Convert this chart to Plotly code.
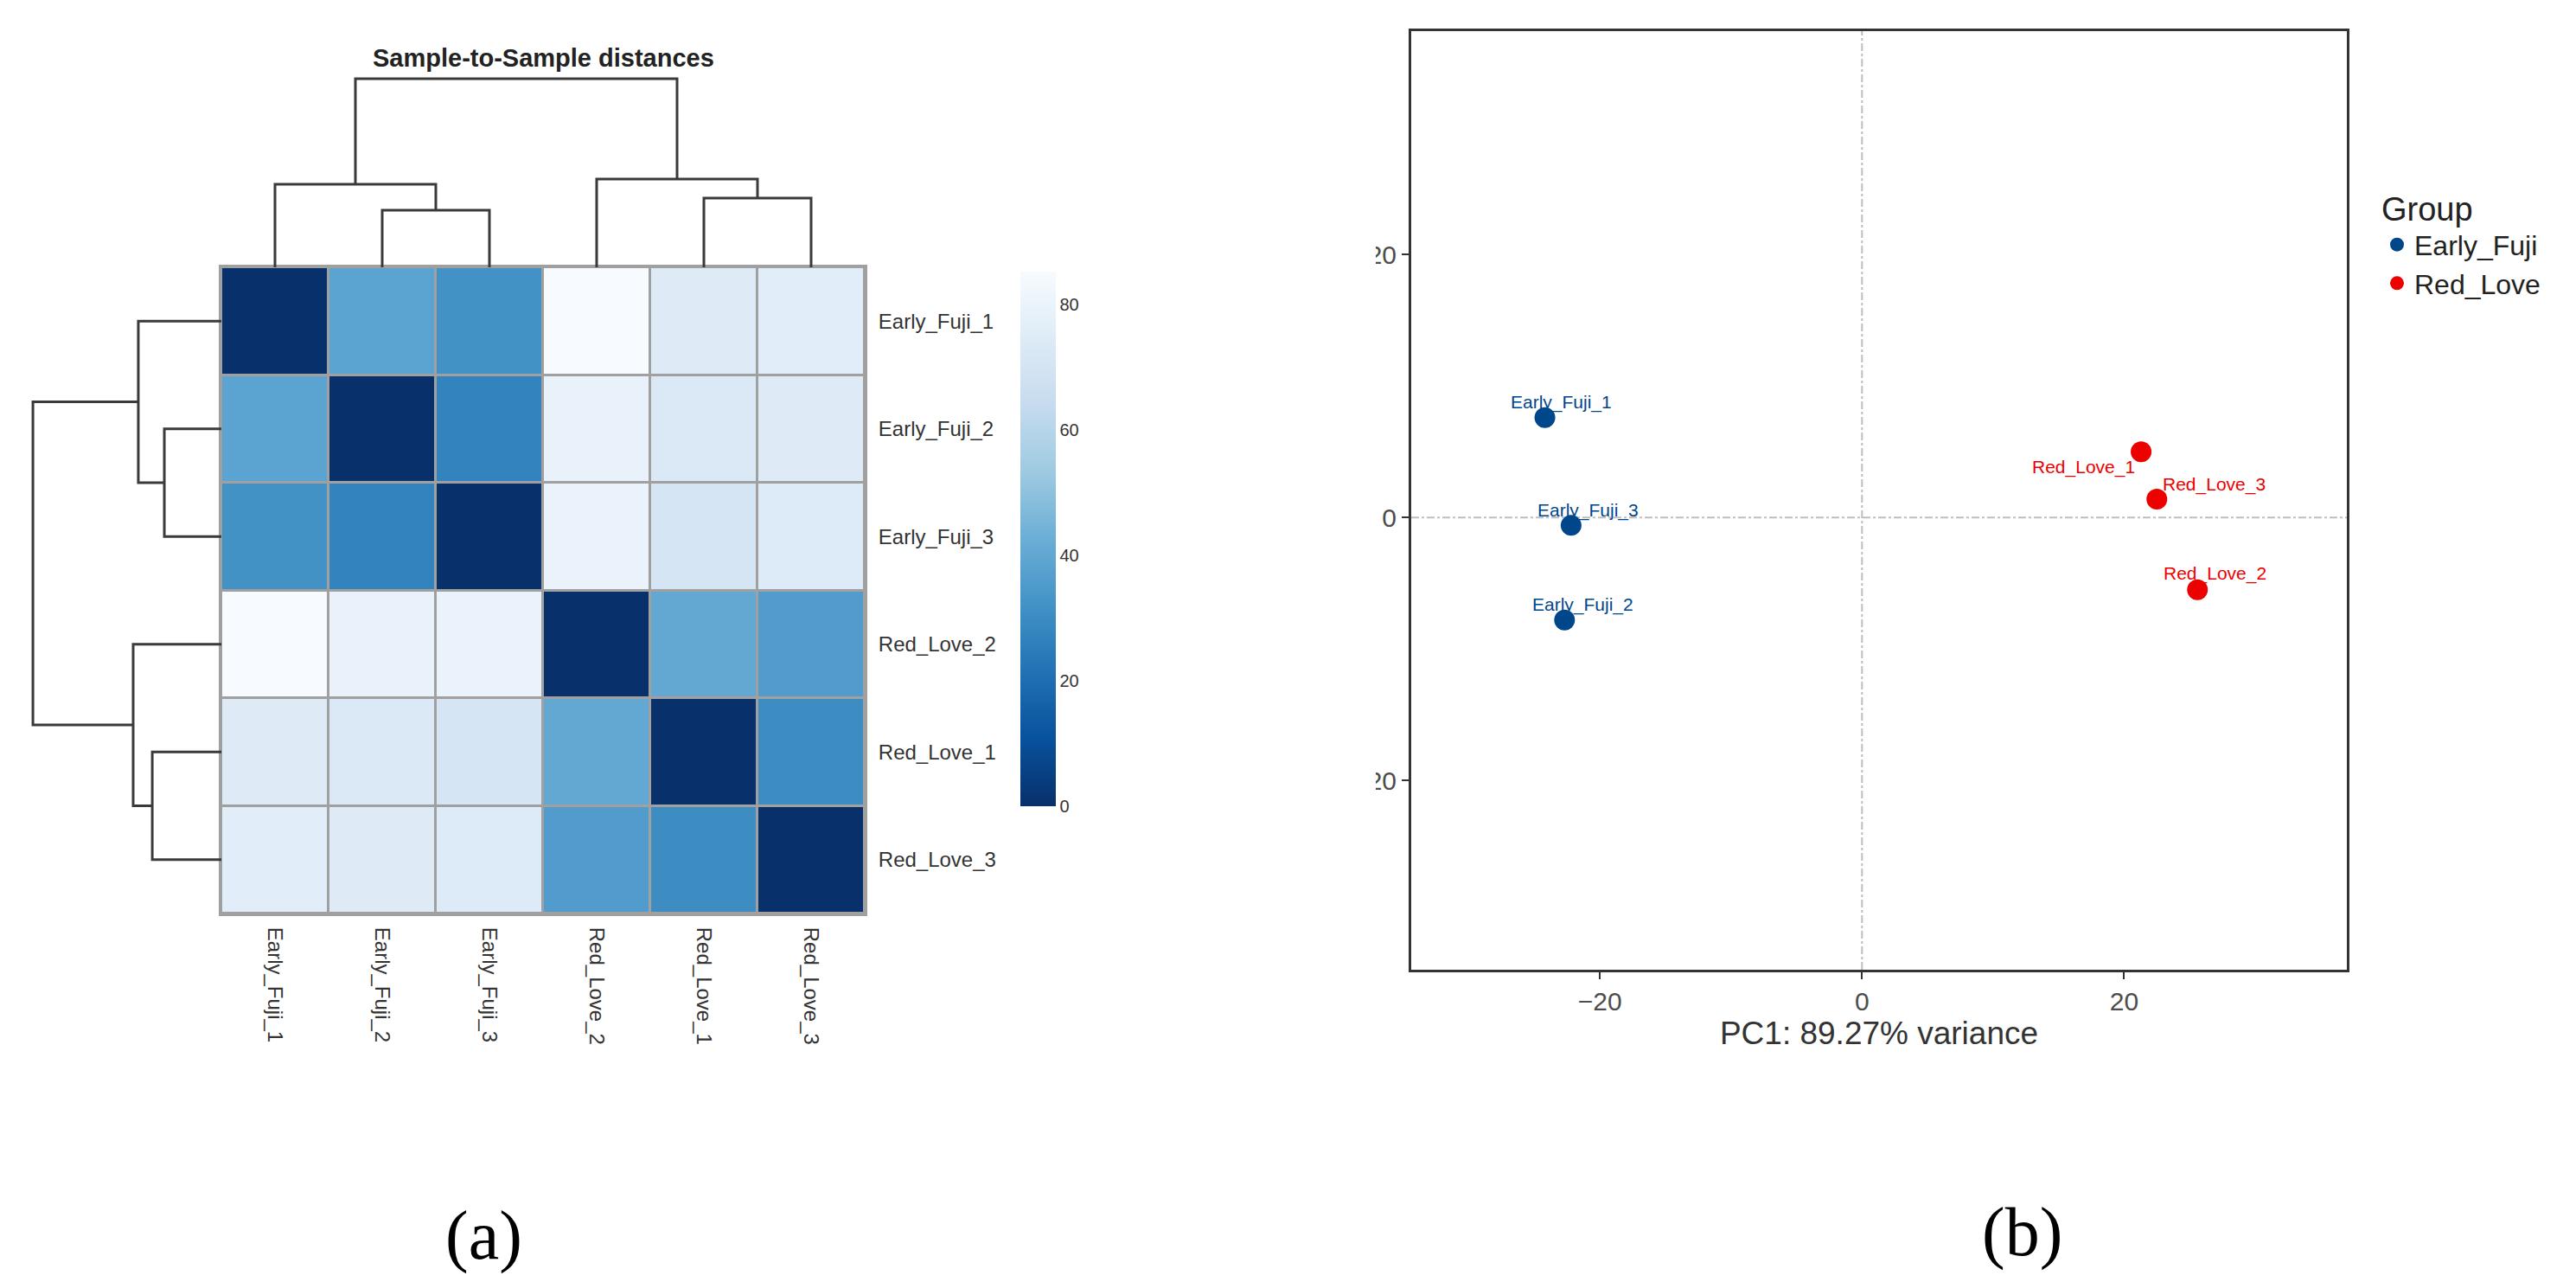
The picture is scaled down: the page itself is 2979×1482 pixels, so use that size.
# Sample-to-sample distance heatmap (pheatmap style) + PCA scatter, side by side
import plotly.graph_objects as go

# ==== Data ====
samples = ["Early_Fuji_1", "Early_Fuji_2", "Early_Fuji_3",
           "Red_Love_1", "Red_Love_2", "Red_Love_3"]

# Euclidean sample distances (symmetric)
sample_dist = [
    [0.0, 38.5, 32.0, 74.6, 85.3, 75.9],
    [38.5, 0.0, 27.0, 73.3, 79.4, 74.6],
    [32.0, 27.0, 0.0, 70.6, 79.8, 74.2],
    [74.6, 73.3, 70.6, 0.0, 40.3, 30.4],
    [85.3, 79.4, 79.8, 40.3, 0.0, 35.9],
    [75.9, 74.6, 74.2, 30.4, 35.9, 0.0],
]

# hierarchical clustering result: (left, right, merge height)
sample_tree = (
    ("Early_Fuji_1", ("Early_Fuji_2", "Early_Fuji_3", 38.8), 56.5),
    ("Red_Love_2", ("Red_Love_1", "Red_Love_3", 47.0), 60.0),
    128.2,
)

colorbar_ticks = [0, 20, 40, 60, 80]

# PCA coordinates
pc1 = [-24.2, -22.7, -22.2, 21.3, 25.6, 22.5]
pc2 = [7.6, -7.8, -0.6, 5.0, -5.5, 1.4]
groups = ["Early_Fuji", "Early_Fuji", "Early_Fuji", "Red_Love", "Red_Love", "Red_Love"]
group_names = ["Early_Fuji", "Red_Love"]
pca_ticks = [-20, 0, 20]
pc1_label = "PC1: 89.27% variance"

# ==== Styling ====
W, H = 2979, 1482
FONT = "Liberation Sans"
group_colors = {"Early_Fuji": "#00468B", "Red_Love": "#ED0000"}
blues_rev = [[0.0, "#08306B"], [0.125, "#08519C"], [0.25, "#2171B5"], [0.375, "#4292C6"],
             [0.5, "#6BAED6"], [0.625, "#9ECAE1"], [0.75, "#C6DBEF"], [0.875, "#DEEBF7"],
             [1.0, "#F7FBFF"]]
# repel-like label offsets (px) relative to each point
label_shift = {
    "Early_Fuji_1": (19, 18), "Early_Fuji_2": (21, 18), "Early_Fuji_3": (20, 17),
    "Red_Love_1": (-67, -18), "Red_Love_2": (20, 19), "Red_Love_3": (66, 17),
}

# pixel layout of the heatmap panel
hm_left, hm_right, hm_top, hm_bottom = 256, 1000, 309, 1056
px_per_unit = 1.7         # dendrogram scale
dend_max = 132.0          # dendrogram axis range


def px_x(p):
    return p / W


def px_y(p):
    return 1 - p / H


def tree_leaves(node):
    if isinstance(node, str):
        return [node]
    return tree_leaves(node[0]) + tree_leaves(node[1])


def tree_segments(node, pos):
    if isinstance(node, str):
        return pos[node], 0.0, [], []
    xl, hl, xs_l, ys_l = tree_segments(node[0], pos)
    xr, hr, xs_r, ys_r = tree_segments(node[1], pos)
    h = node[2]
    xs = xs_l + xs_r + [xl, xl, xr, xr, None]
    ys = ys_l + ys_r + [hl, h, h, hr, None]
    return (xl + xr) / 2, h, xs, ys


order = tree_leaves(sample_tree)
idx = [samples.index(s) for s in order]
z = [[sample_dist[i][j] for j in idx] for i in idx]
leaf_pos = {name: k for k, name in enumerate(order)}
_, _, dend_x, dend_h = tree_segments(sample_tree, leaf_pos)

fig = go.Figure()

# ==== Heatmap ====
fig.add_trace(go.Heatmap(
    x=order, y=order, z=z,
    colorscale=blues_rev, zmin=0, zmax=max(max(r) for r in sample_dist),
    xgap=3, ygap=3, xaxis="x", yaxis="y", hoverinfo="skip",
    colorbar=dict(
        x=px_x(1180), xanchor="left", y=px_y(932), yanchor="bottom",
        xpad=0, ypad=0,
        len=618, lenmode="pixels", thickness=41, thicknessmode="pixels",
        outlinewidth=0, ticks="", tickvals=colorbar_ticks,
        tickfont=dict(family=FONT, size=20, color="#333333"),
    ),
))

# dendrograms
fig.add_trace(go.Scatter(x=dend_x, y=dend_h, mode="lines", xaxis="x3", yaxis="y3",
                         line=dict(color="#3a3a3a", width=3), showlegend=False,
                         hoverinfo="skip"))
fig.add_trace(go.Scatter(x=dend_h, y=dend_x, mode="lines", xaxis="x4", yaxis="y4",
                         line=dict(color="#3a3a3a", width=3), showlegend=False,
                         hoverinfo="skip"))

# ==== PCA ====
for g in group_names:
    xs = [x for x, gg in zip(pc1, groups) if gg == g]
    ys = [y for y, gg in zip(pc2, groups) if gg == g]
    fig.add_trace(go.Scatter(
        x=xs, y=ys, mode="markers", name=g, xaxis="x2", yaxis="y2",
        marker=dict(color=group_colors[g], size=24),
    ))

for name, x, y, g in zip(samples, pc1, pc2, groups):
    dx, dy = label_shift[name]
    fig.add_annotation(x=x, y=y, xref="x2", yref="y2", text=name, showarrow=False,
                       xshift=dx, yshift=dy, xanchor="center", yanchor="middle",
                       font=dict(family=FONT, size=21, color=group_colors[g]))

ref_line = dict(color="#BEBEBE", width=2, dash="dashdot")
fig.add_shape(type="line", xref="x2", yref="y2 domain", x0=0, x1=0, y0=0, y1=1,
              line=ref_line, layer="below")
fig.add_shape(type="line", xref="x2 domain", yref="y2", x0=0, x1=1, y0=0, y1=0,
              line=ref_line, layer="below")

# grey behind the heatmap cells -> cell borders
fig.add_shape(type="rect", xref="x", yref="y", x0=-0.5, x1=5.5, y0=-0.5, y1=5.5,
              fillcolor="#A0A0A0", line_width=0, layer="below")
# left edge of panel (b) is cropped in the figure
fig.add_shape(type="rect", xref="paper", yref="paper", x0=px_x(1480), x1=px_x(1591),
              y0=0, y1=1, fillcolor="white", line_width=0, layer="above")

# titles and panel letters
fig.add_annotation(x=px_x(628), y=px_y(67), xref="paper", yref="paper",
                   xanchor="center", yanchor="middle",
                   text="<b>Sample-to-Sample distances</b>", showarrow=False,
                   font=dict(family=FONT, size=29, color="#222222"))
fig.add_annotation(x=px_x(559), y=px_y(1428), xref="paper", yref="paper", text="(a)",
                   xanchor="center", yanchor="middle", showarrow=False,
                   font=dict(family="Liberation Serif", size=80, color="black"))
fig.add_annotation(x=px_x(2338), y=px_y(1424), xref="paper", yref="paper", text="(b)",
                   xanchor="center", yanchor="middle", showarrow=False,
                   font=dict(family="Liberation Serif", size=80, color="black"))

hm_label_font = dict(family=FONT, size=24, color="#333333")
pca_axis = dict(
    range=[-34.4, 37.0], tickvals=pca_ticks, ticks="outside", ticklen=8, tickwidth=2,
    tickcolor="#333333", showline=True, mirror=True, linecolor="#333333", linewidth=3,
    showgrid=False, zeroline=False,
    tickfont=dict(family=FONT, size=30, color="#4D4D4D"),
)

fig.update_layout(
    width=W, height=H,
    margin=dict(l=0, r=0, t=0, b=0),
    paper_bgcolor="white", plot_bgcolor="white",
    font=dict(family=FONT),
    xaxis=dict(domain=[px_x(hm_left), px_x(hm_right)], anchor="y", tickangle=90,
               ticks="", tickfont=hm_label_font, showline=True, mirror=True,
               linecolor="#A0A0A0", linewidth=3, showgrid=False, zeroline=False,
               ticklabelstandoff=8),
    yaxis=dict(domain=[px_y(hm_bottom), px_y(hm_top)], anchor="x", side="right",
               autorange="reversed", ticks="", tickfont=hm_label_font, showline=True,
               mirror=True, linecolor="#A0A0A0", linewidth=3, showgrid=False,
               zeroline=False, ticklabelstandoff=8),
    xaxis3=dict(domain=[px_x(hm_left), px_x(hm_right)], anchor="y3", range=[-0.5, 5.5],
                visible=False),
    yaxis3=dict(domain=[px_y(hm_top), px_y(hm_top - px_per_unit * dend_max)], anchor="x3",
                range=[0, dend_max], visible=False),
    xaxis4=dict(domain=[px_x(hm_left - px_per_unit * dend_max), px_x(hm_left)], anchor="y4",
                range=[dend_max, 0], visible=False),
    yaxis4=dict(domain=[px_y(hm_bottom), px_y(hm_top)], anchor="x4", range=[5.5, -0.5],
                visible=False),
    xaxis2=dict(domain=[px_x(1632), px_x(2714)], anchor="y2",
                title=dict(text=pc1_label, standoff=2,
                           font=dict(family=FONT, size=37, color="#333333")),
                **pca_axis),
    yaxis2=dict(domain=[px_y(1121), px_y(36)], anchor="x2", **pca_axis),
    legend=dict(x=px_x(2752), y=px_y(206), xanchor="left", yanchor="top",
                title=dict(text="Group", font=dict(family=FONT, size=38, color="#222222")),
                font=dict(family=FONT, size=32, color="#222222"),
                bgcolor="rgba(0,0,0,0)"),
)

fig.write_html("out.html", config={"displayModeBar": False},
               post_script="document.body.style.margin='0';")
